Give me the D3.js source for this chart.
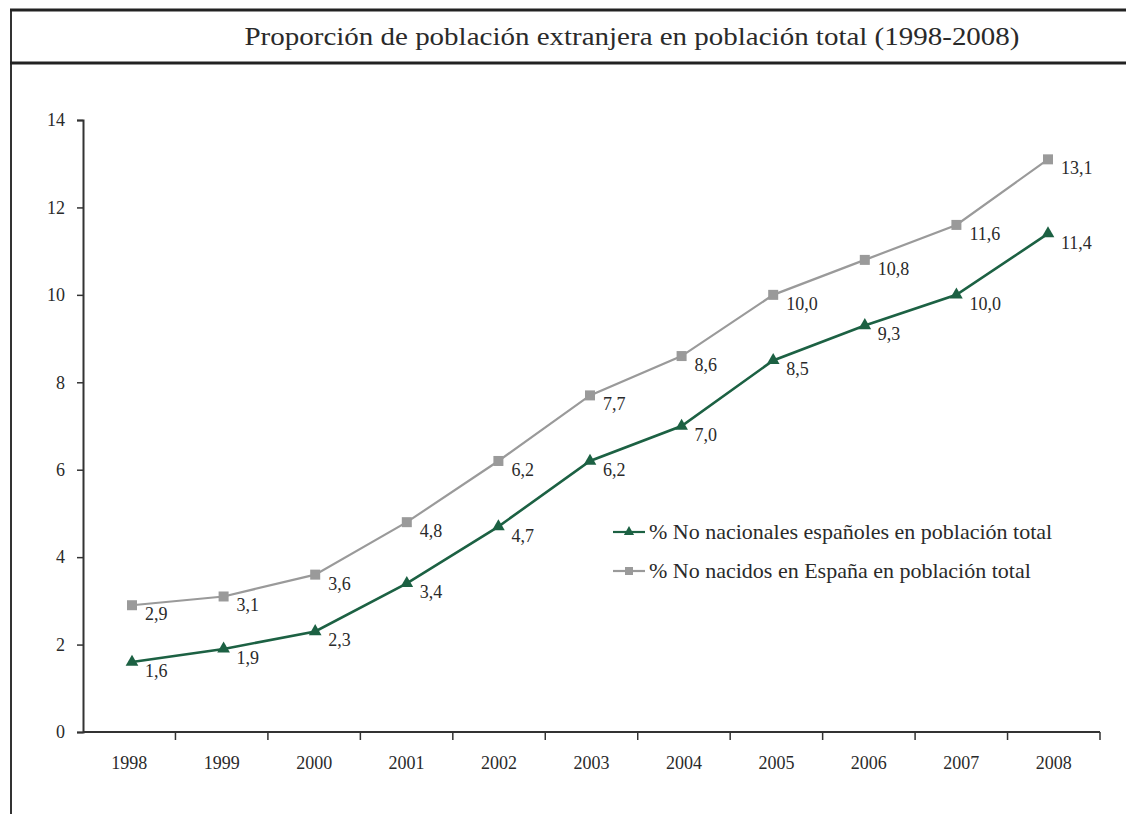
<!DOCTYPE html>
<html>
<head>
<meta charset="utf-8">
<script src="https://cdn.jsdelivr.net/npm/d3@7"></script>
<style>
  body { margin: 0; background: #fff; }
  svg { display: block; font-family: "Liberation Serif", "DejaVu Serif", serif; }
</style>
</head>
<body>
<svg id="chart" width="1126" height="814"></svg>
<script>
var title = "Proporción de población extranjera en población total (1998-2008)";
var years = ["1998", "1999", "2000", "2001", "2002", "2003", "2004", "2005", "2006", "2007", "2008"];
var noNacionales = [1.6, 1.9, 2.3, 3.4, 4.7, 6.2, 7.0, 8.5, 9.3, 10.0, 11.4];
var noNacidos = [2.9, 3.1, 3.6, 4.8, 6.2, 7.7, 8.6, 10.0, 10.8, 11.6, 13.1];
var yTicks = [0, 2, 4, 6, 8, 10, 12, 14];
var seriesNames = ["% No nacionales españoles en población total", "% No nacidos en España en población total"];

var svg = d3.select("#chart");
var green = "#1c6143", grey = "#9a9a9a", ink = "#2a2a2a";

// frame
svg.append("line").attr("x1", 11).attr("x2", 11).attr("y1", 9).attr("y2", 814)
  .attr("stroke", "#333").attr("stroke-width", 2);
svg.append("line").attr("x1", 10).attr("x2", 1126).attr("y1", 10).attr("y2", 10)
  .attr("stroke", "#222").attr("stroke-width", 3);
svg.append("line").attr("x1", 10).attr("x2", 1126).attr("y1", 63).attr("y2", 63)
  .attr("stroke", "#222").attr("stroke-width", 3);

svg.append("text")
  .attr("x", 632).attr("y", 45)
  .attr("text-anchor", "middle")
  .attr("font-size", 25)
  .attr("fill", ink)
  .attr("textLength", 775).attr("lengthAdjust", "spacingAndGlyphs")
  .text(title);

var y = d3.scaleLinear().domain([0, 14]).range([732, 120]);
var xBand = d3.scaleBand().domain(years).range([83, 1100]);
var x = d3.scalePoint().domain(years).range([132, 1048]);

// y axis
var yAxis = d3.axisLeft(y).tickValues(yTicks).tickSize(6).tickPadding(12).tickFormat(d3.format("d"));
var gy = svg.append("g").attr("transform", "translate(83,0)").call(yAxis);
gy.select(".domain").attr("stroke", "#333").attr("stroke-width", 2);
gy.selectAll(".tick line").attr("stroke", "#333").attr("stroke-width", 1.5);
gy.selectAll(".tick text").attr("font-family", "Liberation Serif").attr("font-size", 18).attr("fill", ink);

// x axis: ticks on category boundaries
var gx = svg.append("g").attr("transform", "translate(0,732)");
gx.append("line").attr("x1", 83).attr("x2", 1100).attr("stroke", "#333").attr("stroke-width", 2);
gx.selectAll("line.tk").data(years).enter().append("line").attr("class", "tk")
  .attr("x1", function(d) { return xBand(d) + xBand.bandwidth(); })
  .attr("x2", function(d) { return xBand(d) + xBand.bandwidth(); })
  .attr("y1", 0).attr("y2", 8)
  .attr("stroke", "#333").attr("stroke-width", 1.5);
gx.selectAll("text").data(years).enter().append("text")
  .attr("x", function(d) { return xBand(d) + xBand.bandwidth() / 2; })
  .attr("y", 37)
  .attr("text-anchor", "middle")
  .attr("font-size", 18)
  .attr("fill", ink)
  .text(function(d) { return d; });

var line = d3.line().x(function(d, i) { return x(years[i]); }).y(function(d) { return y(d); });
var fmt = function(v) { return d3.format(".1f")(v).replace(".", ","); };

// grey series
svg.append("path").attr("d", line(noNacidos))
  .attr("fill", "none").attr("stroke", grey).attr("stroke-width", 2.2);
svg.selectAll("rect.pt").data(noNacidos).enter().append("rect").attr("class", "pt")
  .attr("x", function(d, i) { return x(years[i]) - 5; })
  .attr("y", function(d) { return y(d) - 5; })
  .attr("width", 10).attr("height", 10)
  .attr("fill", grey);

// green series
var tri = d3.symbol().type(d3.symbolTriangle).size(70);
svg.append("path").attr("d", line(noNacionales))
  .attr("fill", "none").attr("stroke", green).attr("stroke-width", 2.6);
svg.selectAll("path.tri").data(noNacionales).enter().append("path").attr("class", "tri")
  .attr("d", tri)
  .attr("transform", function(d, i) { return "translate(" + x(years[i]) + "," + y(d) + ")"; })
  .attr("fill", green);

// value labels
function labels(data, cls) {
  svg.selectAll("text." + cls).data(data).enter().append("text").attr("class", cls)
    .attr("x", function(d, i) { return x(years[i]) + 13; })
    .attr("y", function(d) { return y(d) + 15; })
    .attr("font-size", 18)
    .attr("fill", ink)
    .text(fmt);
}
labels(noNacidos, "lg");
labels(noNacionales, "ln");

// legend
var legend = svg.append("g").attr("transform", "translate(613,532)");
[green, grey].forEach(function(c, i) {
  var g = legend.append("g").attr("transform", "translate(0," + (i * 39) + ")");
  g.append("line").attr("x1", 0).attr("x2", 32).attr("stroke", c).attr("stroke-width", 2.2);
  if (i === 0) {
    g.append("path").attr("d", d3.symbol().type(d3.symbolTriangle).size(45)).attr("transform", "translate(16,0)").attr("fill", c);
  } else {
    g.append("rect").attr("x", 12).attr("y", -4).attr("width", 8).attr("height", 8).attr("fill", c);
  }
  g.append("text").attr("x", 36).attr("y", 7)
    .attr("font-size", 22).attr("fill", ink)
    .text(seriesNames[i]);
});
</script>
</body>
</html>
